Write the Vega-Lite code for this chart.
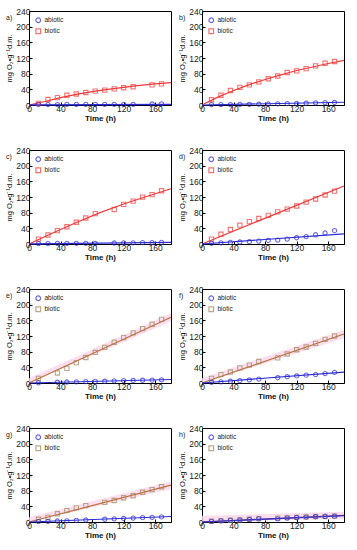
{
"$schema": "https://vega.github.io/schema/vega-lite/v6.json",
"padding": {"left": 5, "top": 6, "right": 0, "bottom": 2},
"datasets": {
"pts": [
{"p":"a","g":"biotic","t":12,"v":4},{"p":"a","g":"biotic","t":24,"v":14},{"p":"a","g":"biotic","t":36,"v":19},{"p":"a","g":"biotic","t":48,"v":25},{"p":"a","g":"biotic","t":60,"v":28},{"p":"a","g":"biotic","t":72,"v":32},{"p":"a","g":"biotic","t":84,"v":35.5},{"p":"a","g":"biotic","t":96,"v":38},{"p":"a","g":"biotic","t":108,"v":41},{"p":"a","g":"biotic","t":120,"v":44},{"p":"a","g":"biotic","t":132,"v":46.5},{"p":"a","g":"biotic","t":156,"v":51.5},{"p":"a","g":"biotic","t":168,"v":54},
{"p":"a","g":"abiotic","t":12,"v":1},{"p":"a","g":"abiotic","t":24,"v":1},{"p":"a","g":"abiotic","t":36,"v":1},{"p":"a","g":"abiotic","t":48,"v":1.5},{"p":"a","g":"abiotic","t":60,"v":1.5},{"p":"a","g":"abiotic","t":72,"v":1.5},{"p":"a","g":"abiotic","t":84,"v":1.5},{"p":"a","g":"abiotic","t":96,"v":1.5},{"p":"a","g":"abiotic","t":108,"v":1.5},{"p":"a","g":"abiotic","t":120,"v":1.5},{"p":"a","g":"abiotic","t":132,"v":1.5},{"p":"a","g":"abiotic","t":156,"v":2.5},{"p":"a","g":"abiotic","t":168,"v":3},
{"p":"b","g":"biotic","t":12,"v":13.5},{"p":"b","g":"biotic","t":24,"v":25},{"p":"b","g":"biotic","t":36,"v":37},{"p":"b","g":"biotic","t":48,"v":45},{"p":"b","g":"biotic","t":60,"v":51.5},{"p":"b","g":"biotic","t":72,"v":59},{"p":"b","g":"biotic","t":84,"v":67},{"p":"b","g":"biotic","t":96,"v":74},{"p":"b","g":"biotic","t":108,"v":83},{"p":"b","g":"biotic","t":120,"v":87},{"p":"b","g":"biotic","t":132,"v":93},{"p":"b","g":"biotic","t":144,"v":100},{"p":"b","g":"biotic","t":156,"v":106.5},{"p":"b","g":"biotic","t":168,"v":111},
{"p":"b","g":"abiotic","t":12,"v":1},{"p":"b","g":"abiotic","t":24,"v":1},{"p":"b","g":"abiotic","t":36,"v":1},{"p":"b","g":"abiotic","t":48,"v":1.5},{"p":"b","g":"abiotic","t":60,"v":1.5},{"p":"b","g":"abiotic","t":72,"v":2},{"p":"b","g":"abiotic","t":84,"v":2.5},{"p":"b","g":"abiotic","t":96,"v":3},{"p":"b","g":"abiotic","t":108,"v":3.5},{"p":"b","g":"abiotic","t":120,"v":4},{"p":"b","g":"abiotic","t":132,"v":4.5},{"p":"b","g":"abiotic","t":144,"v":5.5},{"p":"b","g":"abiotic","t":156,"v":6},{"p":"b","g":"abiotic","t":168,"v":6.5},
{"p":"c","g":"biotic","t":12,"v":12.6},{"p":"c","g":"biotic","t":24,"v":23},{"p":"c","g":"biotic","t":36,"v":34},{"p":"c","g":"biotic","t":48,"v":44},{"p":"c","g":"biotic","t":60,"v":55.5},{"p":"c","g":"biotic","t":72,"v":66.5},{"p":"c","g":"biotic","t":84,"v":77.5},{"p":"c","g":"biotic","t":108,"v":88},{"p":"c","g":"biotic","t":120,"v":101},{"p":"c","g":"biotic","t":132,"v":109.5},{"p":"c","g":"biotic","t":144,"v":119.5},{"p":"c","g":"biotic","t":156,"v":126},{"p":"c","g":"biotic","t":168,"v":136},
{"p":"c","g":"abiotic","t":12,"v":1},{"p":"c","g":"abiotic","t":24,"v":1},{"p":"c","g":"abiotic","t":36,"v":1.5},{"p":"c","g":"abiotic","t":48,"v":1.5},{"p":"c","g":"abiotic","t":60,"v":1.5},{"p":"c","g":"abiotic","t":72,"v":1.5},{"p":"c","g":"abiotic","t":84,"v":1.5},{"p":"c","g":"abiotic","t":108,"v":2.5},{"p":"c","g":"abiotic","t":120,"v":3},{"p":"c","g":"abiotic","t":132,"v":3},{"p":"c","g":"abiotic","t":144,"v":3.5},{"p":"c","g":"abiotic","t":156,"v":3.5},{"p":"c","g":"abiotic","t":168,"v":4},
{"p":"d","g":"biotic","t":12,"v":12.6},{"p":"d","g":"biotic","t":24,"v":25},{"p":"d","g":"biotic","t":36,"v":37},{"p":"d","g":"biotic","t":48,"v":48},{"p":"d","g":"biotic","t":60,"v":57},{"p":"d","g":"biotic","t":72,"v":65},{"p":"d","g":"biotic","t":84,"v":73},{"p":"d","g":"biotic","t":96,"v":82},{"p":"d","g":"biotic","t":108,"v":89},{"p":"d","g":"biotic","t":120,"v":97},{"p":"d","g":"biotic","t":132,"v":107},{"p":"d","g":"biotic","t":144,"v":115},{"p":"d","g":"biotic","t":156,"v":125},{"p":"d","g":"biotic","t":168,"v":135},
{"p":"d","g":"abiotic","t":12,"v":1.7},{"p":"d","g":"abiotic","t":24,"v":3},{"p":"d","g":"abiotic","t":36,"v":4},{"p":"d","g":"abiotic","t":48,"v":5},{"p":"d","g":"abiotic","t":60,"v":6},{"p":"d","g":"abiotic","t":72,"v":7.5},{"p":"d","g":"abiotic","t":84,"v":9},{"p":"d","g":"abiotic","t":96,"v":10},{"p":"d","g":"abiotic","t":108,"v":12.6},{"p":"d","g":"abiotic","t":120,"v":16},{"p":"d","g":"abiotic","t":132,"v":19},{"p":"d","g":"abiotic","t":144,"v":23.5},{"p":"d","g":"abiotic","t":156,"v":28},{"p":"d","g":"abiotic","t":168,"v":34},
{"p":"e","g":"biotic","t":12,"v":12},{"p":"e","g":"biotic","t":36,"v":25.5},{"p":"e","g":"biotic","t":48,"v":37.5},{"p":"e","g":"biotic","t":60,"v":52},{"p":"e","g":"biotic","t":72,"v":65},{"p":"e","g":"biotic","t":84,"v":78},{"p":"e","g":"biotic","t":96,"v":91},{"p":"e","g":"biotic","t":108,"v":104},{"p":"e","g":"biotic","t":120,"v":116},{"p":"e","g":"biotic","t":132,"v":128},{"p":"e","g":"biotic","t":144,"v":139},{"p":"e","g":"biotic","t":156,"v":150},{"p":"e","g":"biotic","t":168,"v":162.5},
{"p":"e","g":"abiotic","t":12,"v":0.5},{"p":"e","g":"abiotic","t":36,"v":2},{"p":"e","g":"abiotic","t":48,"v":2.5},{"p":"e","g":"abiotic","t":60,"v":3},{"p":"e","g":"abiotic","t":72,"v":3.5},{"p":"e","g":"abiotic","t":84,"v":4},{"p":"e","g":"abiotic","t":96,"v":4.5},{"p":"e","g":"abiotic","t":108,"v":5.5},{"p":"e","g":"abiotic","t":120,"v":6},{"p":"e","g":"abiotic","t":132,"v":6.5},{"p":"e","g":"abiotic","t":144,"v":7},{"p":"e","g":"abiotic","t":156,"v":7.5},{"p":"e","g":"abiotic","t":168,"v":8},
{"p":"f","g":"biotic","t":12,"v":12},{"p":"f","g":"biotic","t":24,"v":21.5},{"p":"f","g":"biotic","t":36,"v":28},{"p":"f","g":"biotic","t":48,"v":38.5},{"p":"f","g":"biotic","t":60,"v":45.5},{"p":"f","g":"biotic","t":72,"v":55},{"p":"f","g":"biotic","t":96,"v":64},{"p":"f","g":"biotic","t":108,"v":74},{"p":"f","g":"biotic","t":120,"v":85},{"p":"f","g":"biotic","t":132,"v":92},{"p":"f","g":"biotic","t":144,"v":101},{"p":"f","g":"biotic","t":156,"v":111.5},{"p":"f","g":"biotic","t":168,"v":120},
{"p":"f","g":"abiotic","t":12,"v":1.5},{"p":"f","g":"abiotic","t":24,"v":3},{"p":"f","g":"abiotic","t":36,"v":4.5},{"p":"f","g":"abiotic","t":48,"v":6},{"p":"f","g":"abiotic","t":60,"v":8},{"p":"f","g":"abiotic","t":72,"v":10},{"p":"f","g":"abiotic","t":96,"v":13.5},{"p":"f","g":"abiotic","t":108,"v":16},{"p":"f","g":"abiotic","t":120,"v":18},{"p":"f","g":"abiotic","t":132,"v":20},{"p":"f","g":"abiotic","t":144,"v":21.5},{"p":"f","g":"abiotic","t":156,"v":24},{"p":"f","g":"abiotic","t":168,"v":27},
{"p":"g","g":"biotic","t":12,"v":7},{"p":"g","g":"biotic","t":24,"v":12},{"p":"g","g":"biotic","t":36,"v":21},{"p":"g","g":"biotic","t":48,"v":29},{"p":"g","g":"biotic","t":60,"v":36},{"p":"g","g":"biotic","t":72,"v":42},{"p":"g","g":"biotic","t":96,"v":50},{"p":"g","g":"biotic","t":108,"v":55},{"p":"g","g":"biotic","t":120,"v":62},{"p":"g","g":"biotic","t":132,"v":67},{"p":"g","g":"biotic","t":144,"v":76},{"p":"g","g":"biotic","t":156,"v":82.5},{"p":"g","g":"biotic","t":168,"v":90},
{"p":"g","g":"abiotic","t":12,"v":1},{"p":"g","g":"abiotic","t":24,"v":1.5},{"p":"g","g":"abiotic","t":36,"v":2.5},{"p":"g","g":"abiotic","t":48,"v":3},{"p":"g","g":"abiotic","t":60,"v":4},{"p":"g","g":"abiotic","t":72,"v":5},{"p":"g","g":"abiotic","t":96,"v":7},{"p":"g","g":"abiotic","t":108,"v":8},{"p":"g","g":"abiotic","t":120,"v":9},{"p":"g","g":"abiotic","t":132,"v":10},{"p":"g","g":"abiotic","t":144,"v":11},{"p":"g","g":"abiotic","t":156,"v":12},{"p":"g","g":"abiotic","t":168,"v":13},
{"p":"h","g":"biotic","t":12,"v":2},{"p":"h","g":"biotic","t":24,"v":3.5},{"p":"h","g":"biotic","t":36,"v":4.5},{"p":"h","g":"biotic","t":48,"v":5.5},{"p":"h","g":"biotic","t":60,"v":7},{"p":"h","g":"biotic","t":72,"v":8.5},{"p":"h","g":"biotic","t":96,"v":10},{"p":"h","g":"biotic","t":108,"v":11},{"p":"h","g":"biotic","t":120,"v":12},{"p":"h","g":"biotic","t":132,"v":13},{"p":"h","g":"biotic","t":144,"v":14},{"p":"h","g":"biotic","t":156,"v":14.5},{"p":"h","g":"biotic","t":168,"v":15},
{"p":"h","g":"abiotic","t":12,"v":1.5},{"p":"h","g":"abiotic","t":24,"v":3},{"p":"h","g":"abiotic","t":36,"v":4},{"p":"h","g":"abiotic","t":48,"v":5},{"p":"h","g":"abiotic","t":60,"v":6.5},{"p":"h","g":"abiotic","t":72,"v":8},{"p":"h","g":"abiotic","t":96,"v":8},{"p":"h","g":"abiotic","t":108,"v":10},{"p":"h","g":"abiotic","t":120,"v":11.5},{"p":"h","g":"abiotic","t":132,"v":12.5},{"p":"h","g":"abiotic","t":144,"v":13.5},{"p":"h","g":"abiotic","t":156,"v":14},{"p":"h","g":"abiotic","t":168,"v":15}
],
"fits": [
{"p":"a","g":"biotic","t":0,"v":0},{"p":"a","g":"biotic","t":20,"v":9},{"p":"a","g":"biotic","t":40,"v":19},{"p":"a","g":"biotic","t":60,"v":27},{"p":"a","g":"biotic","t":80,"v":34},{"p":"a","g":"biotic","t":100,"v":40},{"p":"a","g":"biotic","t":120,"v":45},{"p":"a","g":"biotic","t":140,"v":50},{"p":"a","g":"biotic","t":160,"v":54},{"p":"a","g":"biotic","t":180,"v":57},
{"p":"a","g":"abiotic","t":0,"v":0.5},{"p":"a","g":"abiotic","t":180,"v":1.5},
{"p":"b","g":"biotic","t":0,"v":0},{"p":"b","g":"biotic","t":20,"v":20},{"p":"b","g":"biotic","t":40,"v":37},{"p":"b","g":"biotic","t":60,"v":52},{"p":"b","g":"biotic","t":80,"v":65},{"p":"b","g":"biotic","t":100,"v":77},{"p":"b","g":"biotic","t":120,"v":88},{"p":"b","g":"biotic","t":140,"v":97},{"p":"b","g":"biotic","t":160,"v":106},{"p":"b","g":"biotic","t":180,"v":114},
{"p":"b","g":"abiotic","t":0,"v":0},{"p":"b","g":"abiotic","t":180,"v":7},
{"p":"c","g":"biotic","t":0,"v":0},{"p":"c","g":"biotic","t":30,"v":28},{"p":"c","g":"biotic","t":60,"v":55},{"p":"c","g":"biotic","t":90,"v":80},{"p":"c","g":"biotic","t":120,"v":102},{"p":"c","g":"biotic","t":150,"v":122},{"p":"c","g":"biotic","t":180,"v":141},
{"p":"c","g":"abiotic","t":0,"v":0.5},{"p":"c","g":"abiotic","t":180,"v":4},
{"p":"d","g":"biotic","t":0,"v":0},{"p":"d","g":"biotic","t":180,"v":148},
{"p":"d","g":"abiotic","t":0,"v":0},{"p":"d","g":"abiotic","t":180,"v":26},
{"p":"e","g":"biotic","t":0,"v":0},{"p":"e","g":"biotic","t":180,"v":168},
{"p":"e","g":"abiotic","t":0,"v":0},{"p":"e","g":"abiotic","t":180,"v":9},
{"p":"f","g":"biotic","t":0,"v":0},{"p":"f","g":"biotic","t":180,"v":125},
{"p":"f","g":"abiotic","t":0,"v":0},{"p":"f","g":"abiotic","t":180,"v":28},
{"p":"g","g":"biotic","t":0,"v":0},{"p":"g","g":"biotic","t":180,"v":94},
{"p":"g","g":"abiotic","t":0,"v":0},{"p":"g","g":"abiotic","t":180,"v":14},
{"p":"h","g":"biotic","t":0,"v":0},{"p":"h","g":"biotic","t":180,"v":17},
{"p":"h","g":"abiotic","t":0,"v":0},{"p":"h","g":"abiotic","t":180,"v":16}
],
"bands": [
{"p":"e","t":0,"lo":0,"hi":12},{"p":"e","t":180,"lo":157,"hi":179},
{"p":"f","t":0,"lo":0,"hi":12},{"p":"f","t":180,"lo":114,"hi":136},
{"p":"g","t":0,"lo":0,"hi":12},{"p":"g","t":180,"lo":84,"hi":104},
{"p":"h","t":0,"lo":0,"hi":16},{"p":"h","t":180,"lo":8,"hi":26}
]
},
"columns": 2,
"spacing": {"row": 22, "column": 4},
"concat": [
{"width":142,"height":94,"title":{"text":"a)"},"layer":[
{"data":{"name":"fits"},"transform":[{"filter":"datum.p==='a'"}],"mark":{"type":"line","strokeWidth":1.2},"encoding":{"x":{"field":"t","type":"quantitative","scale":{"domain":[0,180],"nice":false},"axis":{"values":[0,40,80,120,160],"tickCount":20,"title":"Time (h)"}},"y":{"field":"v","type":"quantitative","scale":{"domain":[0,240],"nice":false},"axis":{"values":[0,40,80,120,160,200,240],"tickCount":20,"title":"mg O₂•g⁻¹d.m."}},"stroke":{"field":"g","type":"nominal","scale":{"domain":["abiotic","biotic"],"range":["#2b2bd8","#f03a3a"]},"legend":null}}},
{"data":{"name":"pts"},"transform":[{"filter":"datum.p==='a'"}],"mark":{"type":"point","filled":false,"strokeWidth":1.1,"size":18},"encoding":{"x":{"field":"t","type":"quantitative"},"y":{"field":"v","type":"quantitative"},"color":{"field":"g","type":"nominal","scale":{"domain":["abiotic","biotic"],"range":["#2b2bd8","#f03a3a"]},"legend":{"orient":"top-left","title":null,"encode":{"symbols":{"update":{"shape":{"signal":"datum.value === 'abiotic' ? 'triangle-up' : 'square'"},"fill":{"signal":"datum.value === 'abiotic' ? '#2b2bd8' : '#f9b0b0'"}}}}}},"shape":{"field":"g","type":"nominal","scale":{"domain":["abiotic","biotic"],"range":["circle","square"]},"legend":null}}}
],"resolve":{"scale":{"color":"independent","shape":"independent","stroke":"independent"}}},
{"width":142,"height":94,"title":{"text":"b)"},"layer":[
{"data":{"name":"fits"},"transform":[{"filter":"datum.p==='b'"}],"mark":{"type":"line","strokeWidth":1.2},"encoding":{"x":{"field":"t","type":"quantitative","scale":{"domain":[0,180],"nice":false},"axis":{"values":[0,40,80,120,160],"tickCount":20,"title":"Time (h)"}},"y":{"field":"v","type":"quantitative","scale":{"domain":[0,240],"nice":false},"axis":{"values":[0,40,80,120,160,200,240],"tickCount":20,"title":"mg O₂•g⁻¹d.m."}},"stroke":{"field":"g","type":"nominal","scale":{"domain":["abiotic","biotic"],"range":["#2b2bd8","#f03a3a"]},"legend":null}}},
{"data":{"name":"pts"},"transform":[{"filter":"datum.p==='b'"}],"mark":{"type":"point","filled":false,"strokeWidth":1.1,"size":18},"encoding":{"x":{"field":"t","type":"quantitative"},"y":{"field":"v","type":"quantitative"},"color":{"field":"g","type":"nominal","scale":{"domain":["abiotic","biotic"],"range":["#2b2bd8","#f03a3a"]},"legend":{"orient":"top-left","title":null,"encode":{"symbols":{"update":{"shape":{"signal":"datum.value === 'abiotic' ? 'triangle-up' : 'square'"},"fill":{"signal":"datum.value === 'abiotic' ? '#2b2bd8' : '#f9b0b0'"}}}}}},"shape":{"field":"g","type":"nominal","scale":{"domain":["abiotic","biotic"],"range":["circle","square"]},"legend":null}}}
],"resolve":{"scale":{"color":"independent","shape":"independent","stroke":"independent"}}},
{"width":142,"height":94,"title":{"text":"c)"},"layer":[
{"data":{"name":"fits"},"transform":[{"filter":"datum.p==='c'"}],"mark":{"type":"line","strokeWidth":1.2},"encoding":{"x":{"field":"t","type":"quantitative","scale":{"domain":[0,180],"nice":false},"axis":{"values":[0,40,80,120,160],"tickCount":20,"title":"Time (h)"}},"y":{"field":"v","type":"quantitative","scale":{"domain":[0,240],"nice":false},"axis":{"values":[0,40,80,120,160,200,240],"tickCount":20,"title":"mg O₂•g⁻¹d.m."}},"stroke":{"field":"g","type":"nominal","scale":{"domain":["abiotic","biotic"],"range":["#2b2bd8","#f03a3a"]},"legend":null}}},
{"data":{"name":"pts"},"transform":[{"filter":"datum.p==='c'"}],"mark":{"type":"point","filled":false,"strokeWidth":1.1,"size":18},"encoding":{"x":{"field":"t","type":"quantitative"},"y":{"field":"v","type":"quantitative"},"color":{"field":"g","type":"nominal","scale":{"domain":["abiotic","biotic"],"range":["#2b2bd8","#f03a3a"]},"legend":{"orient":"top-left","title":null,"encode":{"symbols":{"update":{"shape":{"signal":"datum.value === 'abiotic' ? 'triangle-up' : 'square'"},"fill":{"signal":"datum.value === 'abiotic' ? '#2b2bd8' : '#f9b0b0'"}}}}}},"shape":{"field":"g","type":"nominal","scale":{"domain":["abiotic","biotic"],"range":["circle","square"]},"legend":null}}}
],"resolve":{"scale":{"color":"independent","shape":"independent","stroke":"independent"}}},
{"width":142,"height":94,"title":{"text":"d)"},"layer":[
{"data":{"name":"fits"},"transform":[{"filter":"datum.p==='d'"}],"mark":{"type":"line","strokeWidth":1.2},"encoding":{"x":{"field":"t","type":"quantitative","scale":{"domain":[0,180],"nice":false},"axis":{"values":[0,40,80,120,160],"tickCount":20,"title":"Time (h)"}},"y":{"field":"v","type":"quantitative","scale":{"domain":[0,240],"nice":false},"axis":{"values":[0,40,80,120,160,200,240],"tickCount":20,"title":"mg O₂•g⁻¹d.m."}},"stroke":{"field":"g","type":"nominal","scale":{"domain":["abiotic","biotic"],"range":["#2b2bd8","#f03a3a"]},"legend":null}}},
{"data":{"name":"pts"},"transform":[{"filter":"datum.p==='d'"}],"mark":{"type":"point","filled":false,"strokeWidth":1.1,"size":18},"encoding":{"x":{"field":"t","type":"quantitative"},"y":{"field":"v","type":"quantitative"},"color":{"field":"g","type":"nominal","scale":{"domain":["abiotic","biotic"],"range":["#2b2bd8","#f03a3a"]},"legend":{"orient":"top-left","title":null,"encode":{"symbols":{"update":{"shape":{"signal":"datum.value === 'abiotic' ? 'triangle-up' : 'square'"},"fill":{"signal":"datum.value === 'abiotic' ? '#2b2bd8' : '#f9b0b0'"}}}}}},"shape":{"field":"g","type":"nominal","scale":{"domain":["abiotic","biotic"],"range":["circle","square"]},"legend":null}}}
],"resolve":{"scale":{"color":"independent","shape":"independent","stroke":"independent"}}},
{"width":142,"height":94,"title":{"text":"e)"},"layer":[
{"data":{"name":"bands"},"transform":[{"filter":"datum.p==='e'"}],"mark":{"type":"area","color":"#fbd6ee","opacity":0.8},"encoding":{"x":{"field":"t","type":"quantitative","scale":{"domain":[0,180],"nice":false},"axis":{"values":[0,40,80,120,160],"tickCount":20,"title":"Time (h)"}},"y":{"field":"lo","type":"quantitative","scale":{"domain":[0,240],"nice":false},"axis":{"values":[0,40,80,120,160,200,240],"tickCount":20,"title":"mg O₂•g⁻¹d.m."}},"y2":{"field":"hi"}}},
{"data":{"name":"fits"},"transform":[{"filter":"datum.p==='e'"}],"mark":{"type":"line","strokeWidth":1.2},"encoding":{"x":{"field":"t","type":"quantitative"},"y":{"field":"v","type":"quantitative"},"stroke":{"field":"g","type":"nominal","scale":{"domain":["abiotic","biotic"],"range":["#2b2bd8","#c0703a"]},"legend":null}}},
{"data":{"name":"pts"},"transform":[{"filter":"datum.p==='e'"}],"mark":{"type":"point","filled":false,"strokeWidth":1.1,"size":18},"encoding":{"x":{"field":"t","type":"quantitative"},"y":{"field":"v","type":"quantitative"},"color":{"field":"g","type":"nominal","scale":{"domain":["abiotic","biotic"],"range":["#2b2bd8","#a0865a"]},"legend":{"orient":"top-left","title":null,"encode":{"symbols":{"update":{"shape":{"signal":"datum.value === 'abiotic' ? 'triangle-up' : 'square'"},"fill":{"signal":"datum.value === 'abiotic' ? '#2b2bd8' : '#e8dcc0'"}}}}}},"shape":{"field":"g","type":"nominal","scale":{"domain":["abiotic","biotic"],"range":["circle","square"]},"legend":null}}}
],"resolve":{"scale":{"color":"independent","shape":"independent","stroke":"independent"}}},
{"width":142,"height":94,"title":{"text":"f)"},"layer":[
{"data":{"name":"bands"},"transform":[{"filter":"datum.p==='f'"}],"mark":{"type":"area","color":"#fbd6ee","opacity":0.8},"encoding":{"x":{"field":"t","type":"quantitative","scale":{"domain":[0,180],"nice":false},"axis":{"values":[0,40,80,120,160],"tickCount":20,"title":"Time (h)"}},"y":{"field":"lo","type":"quantitative","scale":{"domain":[0,240],"nice":false},"axis":{"values":[0,40,80,120,160,200,240],"tickCount":20,"title":"mg O₂•g⁻¹d.m."}},"y2":{"field":"hi"}}},
{"data":{"name":"fits"},"transform":[{"filter":"datum.p==='f'"}],"mark":{"type":"line","strokeWidth":1.2},"encoding":{"x":{"field":"t","type":"quantitative"},"y":{"field":"v","type":"quantitative"},"stroke":{"field":"g","type":"nominal","scale":{"domain":["abiotic","biotic"],"range":["#2b2bd8","#c0703a"]},"legend":null}}},
{"data":{"name":"pts"},"transform":[{"filter":"datum.p==='f'"}],"mark":{"type":"point","filled":false,"strokeWidth":1.1,"size":18},"encoding":{"x":{"field":"t","type":"quantitative"},"y":{"field":"v","type":"quantitative"},"color":{"field":"g","type":"nominal","scale":{"domain":["abiotic","biotic"],"range":["#2b2bd8","#a0865a"]},"legend":{"orient":"top-left","title":null,"encode":{"symbols":{"update":{"shape":{"signal":"datum.value === 'abiotic' ? 'triangle-up' : 'square'"},"fill":{"signal":"datum.value === 'abiotic' ? '#2b2bd8' : '#e8dcc0'"}}}}}},"shape":{"field":"g","type":"nominal","scale":{"domain":["abiotic","biotic"],"range":["circle","square"]},"legend":null}}}
],"resolve":{"scale":{"color":"independent","shape":"independent","stroke":"independent"}}},
{"width":142,"height":94,"title":{"text":"g)"},"layer":[
{"data":{"name":"bands"},"transform":[{"filter":"datum.p==='g'"}],"mark":{"type":"area","color":"#fbd6ee","opacity":0.8},"encoding":{"x":{"field":"t","type":"quantitative","scale":{"domain":[0,180],"nice":false},"axis":{"values":[0,40,80,120,160],"tickCount":20,"title":"Time (h)"}},"y":{"field":"lo","type":"quantitative","scale":{"domain":[0,240],"nice":false},"axis":{"values":[0,40,80,120,160,200,240],"tickCount":20,"title":"mg O₂•g⁻¹d.m."}},"y2":{"field":"hi"}}},
{"data":{"name":"fits"},"transform":[{"filter":"datum.p==='g'"}],"mark":{"type":"line","strokeWidth":1.2},"encoding":{"x":{"field":"t","type":"quantitative"},"y":{"field":"v","type":"quantitative"},"stroke":{"field":"g","type":"nominal","scale":{"domain":["abiotic","biotic"],"range":["#2b2bd8","#c0703a"]},"legend":null}}},
{"data":{"name":"pts"},"transform":[{"filter":"datum.p==='g'"}],"mark":{"type":"point","filled":false,"strokeWidth":1.1,"size":18},"encoding":{"x":{"field":"t","type":"quantitative"},"y":{"field":"v","type":"quantitative"},"color":{"field":"g","type":"nominal","scale":{"domain":["abiotic","biotic"],"range":["#2b2bd8","#a0865a"]},"legend":{"orient":"top-left","title":null,"encode":{"symbols":{"update":{"shape":{"signal":"datum.value === 'abiotic' ? 'triangle-up' : 'square'"},"fill":{"signal":"datum.value === 'abiotic' ? '#2b2bd8' : '#e8dcc0'"}}}}}},"shape":{"field":"g","type":"nominal","scale":{"domain":["abiotic","biotic"],"range":["circle","square"]},"legend":null}}}
],"resolve":{"scale":{"color":"independent","shape":"independent","stroke":"independent"}}},
{"width":142,"height":94,"title":{"text":"h)"},"layer":[
{"data":{"name":"bands"},"transform":[{"filter":"datum.p==='h'"}],"mark":{"type":"area","color":"#fbd6ee","opacity":0.8},"encoding":{"x":{"field":"t","type":"quantitative","scale":{"domain":[0,180],"nice":false},"axis":{"values":[0,40,80,120,160],"tickCount":20,"title":"Time (h)"}},"y":{"field":"lo","type":"quantitative","scale":{"domain":[0,240],"nice":false},"axis":{"values":[0,40,80,120,160,200,240],"tickCount":20,"title":"mg O₂•g⁻¹d.m."}},"y2":{"field":"hi"}}},
{"data":{"name":"fits"},"transform":[{"filter":"datum.p==='h'"}],"mark":{"type":"line","strokeWidth":1.2},"encoding":{"x":{"field":"t","type":"quantitative"},"y":{"field":"v","type":"quantitative"},"stroke":{"field":"g","type":"nominal","scale":{"domain":["abiotic","biotic"],"range":["#2b2bd8","#8a3a5a"]},"legend":null}}},
{"data":{"name":"pts"},"transform":[{"filter":"datum.p==='h'"}],"mark":{"type":"point","filled":false,"strokeWidth":1.1,"size":18},"encoding":{"x":{"field":"t","type":"quantitative"},"y":{"field":"v","type":"quantitative"},"color":{"field":"g","type":"nominal","scale":{"domain":["abiotic","biotic"],"range":["#2b2bd8","#a0865a"]},"legend":{"orient":"top-left","title":null,"encode":{"symbols":{"update":{"shape":{"signal":"datum.value === 'abiotic' ? 'triangle-up' : 'square'"},"fill":{"signal":"datum.value === 'abiotic' ? '#2b2bd8' : '#e8dcc0'"}}}}}},"shape":{"field":"g","type":"nominal","scale":{"domain":["abiotic","biotic"],"range":["circle","square"]},"legend":null}}}
],"resolve":{"scale":{"color":"independent","shape":"independent","stroke":"independent"}}}
],
"resolve": {"scale": {"color": "independent", "shape": "independent", "stroke": "independent"}, "legend": {"color": "independent", "shape": "independent"}},
"config": {
"font": "Liberation Sans",
"view": {"stroke": "#000", "strokeWidth": 1},
"axis": {"grid": false, "domainColor": "#000", "tickColor": "#000", "labelColor": "#222", "titleColor": "#111", "labelFontSize": 8.5, "titleFontSize": 8, "tickSize": -3, "labelPadding": 2, "titlePadding": 2, "labelFlush": false, "labelOverlap": false},
"axisX": {"titleFontWeight": "bold"},
"axisY": {"titleFontWeight": "normal", "titleFontSize": 7.5},
"title": {"orient": "top", "anchor": "start", "frame": "group", "dx": -23, "offset": -14, "fontSize": 7, "fontWeight": "normal", "color": "#222"},
"legend": {"labelFontSize": 6.5, "labelColor": "#222", "symbolSize": 22, "rowPadding": 1, "offset": 6, "symbolStrokeWidth": 1.2, "labelOffset": 3}
}
}
